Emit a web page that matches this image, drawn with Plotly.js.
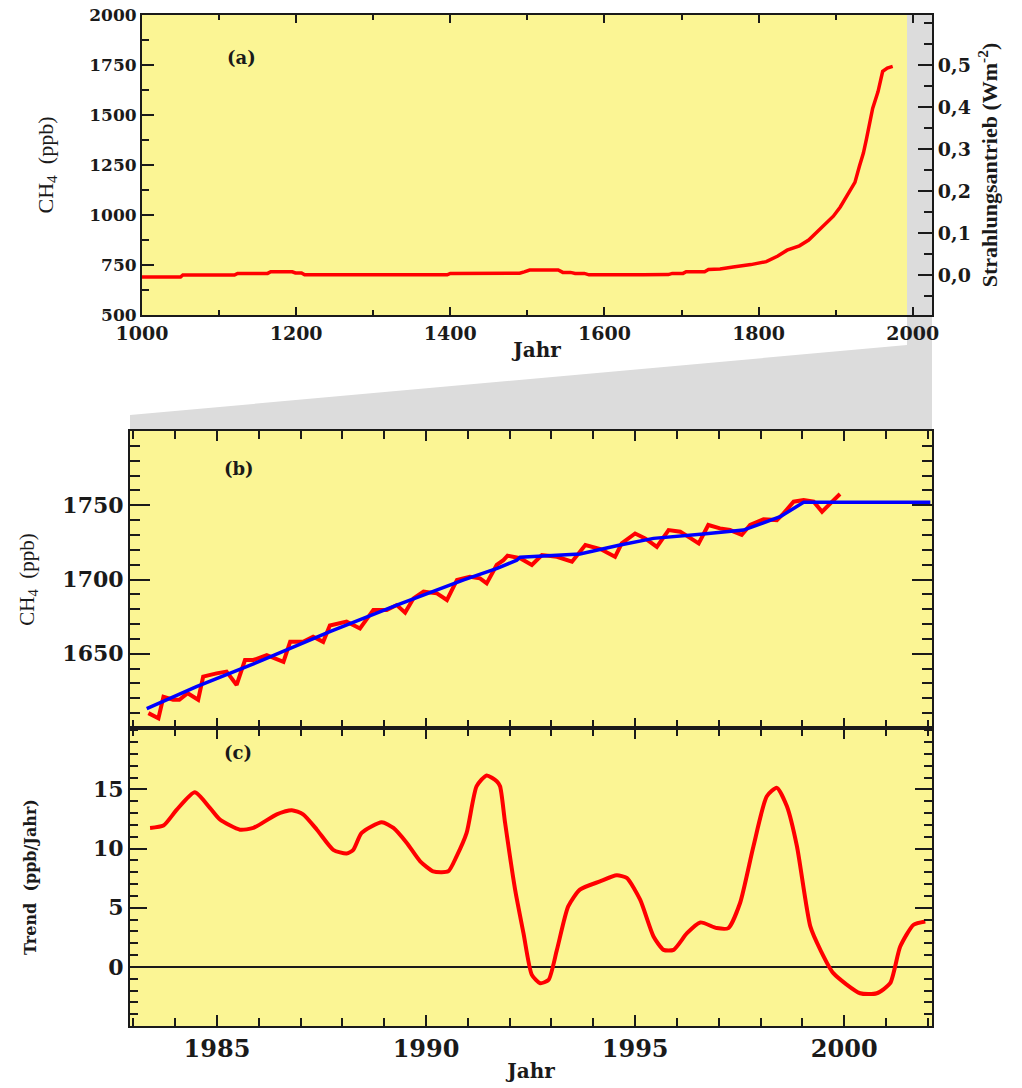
<!DOCTYPE html>
<html>
<head>
<meta charset="utf-8">
<script src="https://cdn.plot.ly/plotly-3.0.1.min.js"></script>
<style>
  html, body { margin: 0; padding: 0; background: #ffffff; }
  #chart { width: 1022px; height: 1088px; }
</style>
</head>
<body>
<div id="chart"></div>
<script>
// ---------- Panel (a): CH4 over the last millennium ----------
const yearsA = [1000, 1050, 1053, 1120, 1124, 1163, 1167, 1195, 1199, 1207, 1211, 1300, 1396, 1400,
  1490, 1496, 1503, 1540, 1546, 1556, 1562, 1574, 1580, 1650, 1683, 1688, 1702, 1706, 1730, 1735,
  1750, 1767, 1790, 1810, 1825, 1837, 1853, 1865, 1875, 1886, 1897, 1906, 1914, 1925, 1931, 1936,
  1940, 1948, 1955, 1961, 1967, 1974];
const ch4A = [690, 690, 700, 700, 708, 708, 716, 716, 710, 710, 701, 701, 701, 708,
  709, 716, 725, 725, 713, 713, 708, 708, 701, 701, 702, 708, 708, 716, 716, 727,
  730, 740, 752, 767, 795, 824, 846, 875, 911, 950, 994, 1040, 1095, 1163, 1246, 1310,
  1381, 1533, 1617, 1718, 1735, 1743];

// ---------- Panel (b): monthly CH4 and de-seasonalised trend ----------
const yearsB = [1983.36, 1983.60, 1983.72, 1983.95, 1984.10, 1984.30, 1984.55, 1984.67, 1984.99,
  1985.23, 1985.47, 1985.67, 1985.87, 1986.19, 1986.59, 1986.75, 1987.06, 1987.30, 1987.54,
  1987.70, 1988.10, 1988.42, 1988.74, 1989.06, 1989.30, 1989.50, 1989.70, 1989.94, 1990.26,
  1990.50, 1990.74, 1991.05, 1991.29, 1991.45, 1991.69, 1991.85, 1991.95, 1992.25, 1992.53,
  1992.77, 1993.13, 1993.49, 1993.81, 1994.17, 1994.52, 1994.68, 1995.00, 1995.24, 1995.52,
  1995.80, 1996.08, 1996.52, 1996.75, 1997.03, 1997.27, 1997.55, 1997.75, 1998.07, 1998.39,
  1998.55, 1998.79, 1999.03, 1999.27, 1999.47, 1999.67, 1999.90];
const ch4B = [1610, 1606.6, 1621, 1619, 1619, 1623.4, 1619, 1634.6, 1636.8,
  1638, 1629, 1645.8, 1645.8, 1649, 1644.6, 1658, 1658, 1661.5, 1658,
  1669, 1671.6, 1667, 1679.5, 1679.5, 1682.8, 1677.7, 1687.3, 1691.8, 1690.7,
  1686.2, 1699.7, 1701.9, 1700.8, 1697.4, 1709.8, 1713, 1716, 1714.3, 1709.8,
  1716.5, 1715.3, 1712, 1723.2, 1720.5, 1715.3, 1724.3, 1731, 1727.7, 1722,
  1733.3, 1732.2, 1724.3, 1736.7, 1734.4, 1733.3, 1730, 1736.7, 1740.5, 1740,
  1744.5, 1752.4, 1753.5, 1752.4, 1745.6, 1751.3, 1757.6];

const yearsTrend = [1983.32, 1984.51, 1986.10, 1987.70, 1989.30, 1990.90, 1991.70, 1992.17,
  1992.25, 1993.68, 1994.64, 1995.44, 1996.63, 1997.59, 1998.47, 1999.03, 2002.06];
const ch4Trend = [1613, 1627.8, 1645.8, 1664.9, 1682.8, 1699.7, 1707.5, 1713,
  1715, 1717.2, 1723.2, 1727.7, 1730.6, 1733.3, 1742.3, 1752, 1752];

// ---------- Panel (c): growth rate ----------
const yearsC = [1983.40, 1983.72, 1984.04, 1984.47, 1984.83, 1985.07, 1985.55, 1985.87, 1986.43,
  1986.79, 1987.06, 1987.39, 1987.78, 1988.10, 1988.26, 1988.46, 1988.94, 1989.22, 1989.54,
  1989.86, 1990.17, 1990.53, 1990.73, 1990.97, 1991.21, 1991.45, 1991.69, 1991.77, 1991.89,
  1992.13, 1992.33, 1992.53, 1992.73, 1992.93, 1993.13, 1993.40, 1993.68, 1994.16, 1994.56,
  1994.80, 1995.12, 1995.44, 1995.68, 1995.92, 1996.24, 1996.56, 1996.95, 1997.23, 1997.51,
  1997.83, 1998.15, 1998.39, 1998.63, 1998.87, 1999.19, 1999.43, 1999.74, 2000.38, 2000.78,
  2001.10, 2001.34, 2001.66, 2001.94];
const rateC = [11.75, 11.95, 13.3, 14.77, 13.45, 12.46, 11.6, 11.75, 12.9,
  13.25, 12.9, 11.6, 9.9, 9.58, 9.9, 11.33, 12.23, 11.75, 10.48,
  8.93, 8.08, 8.08, 9.35, 11.33, 15.28, 16.19, 15.7, 15.28, 12.18,
  6.53, 2.85, -0.68, -1.38, -1.1, 1.44, 5.11, 6.53, 7.23, 7.74,
  7.52, 5.68, 2.57, 1.44, 1.44, 2.85, 3.76, 3.28, 3.28, 5.4,
  10.2, 14.43, 15.14, 13.58, 10.2, 3.42, 1.44, -0.53, -2.23, -2.23,
  -1.38, 1.72, 3.56, 3.84];

// tick labels
const ticksA = [500, 750, 1000, 1250, 1500, 1750, 2000];
const ticksForcing = [0, 0.1, 0.2, 0.3, 0.4, 0.5];
const ticksB = [1650, 1700, 1750];
const ticksC = [0, 5, 10, 15];
const ticksX = [1985, 1990, 1995, 2000];

// ---------- layout helpers (pixel -> paper) ----------
const W = 1022, H = 1088;
const px = v => v / W;
const py = v => 1 - v / H;

const RED = '#ff0000', BLUE = '#0000ff', INK = '#1a1a1a';
const BG = '#fbf594';
const tickFont = s => ({family: 'DejaVu Serif', size: s, weight: 'bold', color: INK});

const traces = [
  {x: yearsA, y: ch4A, xaxis: 'x', yaxis: 'y', mode: 'lines',
   line: {color: RED, width: 3.5}, hoverinfo: 'skip', showlegend: false},
  {x: [], y: [], xaxis: 'x', yaxis: 'y2', mode: 'lines', showlegend: false, hoverinfo: 'skip'},
  {x: yearsB, y: ch4B, xaxis: 'x2', yaxis: 'y3', mode: 'lines',
   line: {color: RED, width: 4}, hoverinfo: 'skip', showlegend: false},
  {x: yearsTrend, y: ch4Trend, xaxis: 'x2', yaxis: 'y3', mode: 'lines',
   line: {color: BLUE, width: 3.5}, hoverinfo: 'skip', showlegend: false},
  {x: yearsC, y: rateC, xaxis: 'x3', yaxis: 'y4', mode: 'lines',
   line: {color: RED, width: 4, shape: 'spline', smoothing: 0.6}, hoverinfo: 'skip', showlegend: false}
];

const axLine = {showline: true, linecolor: INK, linewidth: 2, showgrid: false, zeroline: false};

const layout = {
  width: W, height: H, autosize: false,
  margin: {l: 0, r: 0, t: 0, b: 0, pad: 0},
  paper_bgcolor: '#ffffff', plot_bgcolor: BG,
  separators: ',.',
  showlegend: false,
  // panel (a)
  xaxis: Object.assign({}, axLine, {
    domain: [px(142), px(932)], anchor: 'y', range: [1000, 2025],
    tickmode: 'linear', tick0: 1000, dtick: 200,
    ticks: 'inside', ticklen: 8, tickwidth: 2, tickcolor: INK, mirror: 'ticks',
    minor: {ticks: 'inside', dtick: 100, ticklen: 5, tickwidth: 2, tickcolor: INK},
    tickfont: tickFont(19),
    title: {text: 'Jahr', font: {family: 'DejaVu Serif', size: 20, weight: 'bold', color: INK}, standoff: 0}
  }),
  yaxis: Object.assign({}, axLine, {
    domain: [py(315), py(15)], anchor: 'x', range: [500, 2000],
    tickvals: ticksA, ticks: 'inside', ticklen: 12, tickwidth: 2, tickcolor: INK, mirror: true,
    minor: {ticks: 'inside', dtick: 125, tick0: 500, ticklen: 7, tickwidth: 2, tickcolor: INK},
    tickfont: tickFont(17),
    title: {text: 'CH<sub>4</sub>\u00a0\u00a0(ppb)', font: {family: 'Liberation Serif', size: 22, color: INK}, standoff: 30}
  }),
  yaxis2: Object.assign({}, axLine, {
    overlaying: 'y', side: 'right', anchor: 'x', range: [-0.095, 0.62],
    tickvals: ticksForcing, tickformat: '.1f',
    ticks: 'inside', ticklen: 14, tickwidth: 2, tickcolor: INK,
    minor: {ticks: 'inside', dtick: 0.05, tick0: 0, ticklen: 8, tickwidth: 2, tickcolor: INK},
    tickfont: tickFont(19),
    title: {text: 'Strahlungsantrieb (Wm<sup>-2</sup>)', font: {family: 'Liberation Serif', size: 22, weight: 'bold', color: INK}, standoff: 12}
  }),
  // panel (b)
  xaxis2: Object.assign({}, axLine, {
    domain: [px(130), px(932)], anchor: 'y3', range: [1982.92, 2002.1],
    tickmode: 'linear', tick0: 1985, dtick: 5, showticklabels: false,
    ticks: 'inside', ticklen: 10, tickwidth: 2, tickcolor: INK, mirror: 'ticks',
    minor: {ticks: 'inside', dtick: 1, ticklen: 8, tickwidth: 2, tickcolor: INK}
  }),
  yaxis3: Object.assign({}, axLine, {
    domain: [py(728), py(431)], anchor: 'x2', range: [1600, 1800],
    tickvals: ticksB, ticks: 'inside', ticklen: 20, tickwidth: 2, tickcolor: INK, mirror: 'ticks',
    minor: {ticks: 'inside', dtick: 10, tick0: 1600, ticklen: 10, tickwidth: 2, tickcolor: INK},
    tickfont: tickFont(22),
    title: {text: 'CH<sub>4</sub>\u00a0\u00a0(ppb)', font: {family: 'Liberation Serif', size: 21, color: INK}, standoff: 22}
  }),
  // panel (c)
  xaxis3: Object.assign({}, axLine, {
    domain: [px(130), px(932)], anchor: 'y4', range: [1982.92, 2002.1], matches: 'x2',
    tickvals: ticksX, ticks: 'inside', ticklen: 11, tickwidth: 2, tickcolor: INK, mirror: 'ticks',
    minor: {ticks: 'inside', dtick: 1, ticklen: 8, tickwidth: 2, tickcolor: INK},
    tickfont: tickFont(24),
    title: {text: 'Jahr', font: {family: 'DejaVu Serif', size: 20, weight: 'bold', color: INK}, standoff: 2}
  }),
  yaxis4: Object.assign({}, axLine, {
    domain: [py(1026), py(728)], anchor: 'x3', range: [-5, 20.2],
    tickvals: ticksC, ticks: 'inside', ticklen: 17, tickwidth: 2, tickcolor: INK, mirror: 'ticks',
    minor: {ticks: 'inside', dtick: 1, tick0: 0, ticklen: 8, tickwidth: 2, tickcolor: INK},
    zeroline: true, zerolinecolor: INK, zerolinewidth: 2,
    tickfont: tickFont(22),
    title: {text: 'Trend\u00a0\u00a0(ppb/Jahr)', font: {family: 'DejaVu Serif', size: 16, weight: 'bold', color: INK}, standoff: 52}
  }),
  shapes: [
    {type: 'path', xref: 'paper', yref: 'paper', layer: 'below',
     path: 'M ' + px(907) + ',' + py(15) + ' L ' + px(932) + ',' + py(15) +
           ' L ' + px(932) + ',' + py(430) + ' L ' + px(130) + ',' + py(430) +
           ' L ' + px(130) + ',' + py(415) + ' L ' + px(907) + ',' + py(345) + ' Z',
     fillcolor: '#dcdcdc', line: {width: 0}}
  ],
  annotations: [
    {text: '(a)', xref: 'paper', yref: 'paper', x: px(225), y: py(45), showarrow: false,
     font: {family: 'DejaVu Serif', size: 18, weight: 'bold', color: INK}},
    {text: '(b)', xref: 'paper', yref: 'paper', x: px(222), y: py(468), showarrow: false,
     font: {family: 'DejaVu Serif', size: 18, weight: 'bold', color: INK}},
    {text: '(c)', xref: 'paper', yref: 'paper', x: px(222), y: py(765), showarrow: false,
     font: {family: 'DejaVu Serif', size: 18, weight: 'bold', color: INK}}
  ]
};

Plotly.newPlot('chart', traces, layout, {displayModeBar: false, staticPlot: true});
</script>
</body>
</html>
